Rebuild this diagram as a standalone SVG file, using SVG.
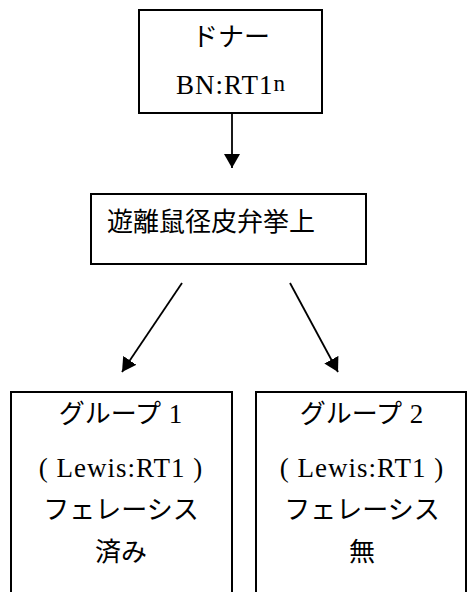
<svg xmlns="http://www.w3.org/2000/svg" width="468" height="592" viewBox="0 0 468 592">
  <style>
    .box { fill: #fff; stroke: #000; stroke-width: 2; }
    .jp { font-family: "Noto Sans CJK JP", "Noto Sans", sans-serif; font-size: 26px; fill: #000; }
    .lat { font-family: "Liberation Serif", "DejaVu Serif", serif; font-size: 27px; fill: #000; letter-spacing: 1px; }
    .conn { stroke: #000; stroke-width: 1.8; fill: none; }
  </style>
  <defs>
    <marker id="arrow" viewBox="0 0 14 16" refX="14" refY="8" markerWidth="14" markerHeight="16" markerUnits="userSpaceOnUse" orient="auto">
      <path d="M0,0 L14,8 L0,16 Z" fill="#000"/>
    </marker>
  </defs>
  <rect width="468" height="592" fill="#fff"/>

  <g id="donor">
    <rect class="box" x="139" y="10" width="183" height="103"/>
    <text class="jp" x="231" y="46" text-anchor="middle">ドナー</text>
    <text class="lat" x="231" y="94" text-anchor="middle">BN:RT1<tspan font-size="23" dy="-3">n</tspan></text>
  </g>

  <g id="flap">
    <rect class="box" x="91" y="194" width="275" height="70"/>
    <text class="jp" x="107" y="231">遊離鼠径皮弁挙上</text>
  </g>

  <g id="group1">
    <rect class="box" x="11" y="392" width="221" height="220"/>
    <text class="jp" x="121" y="423" text-anchor="middle">グループ<tspan class="lat" letter-spacing="0"> 1</tspan></text>
    <text class="lat" x="121" y="477" text-anchor="middle" xml:space="preserve">( Lewis:RT1 )</text>
    <text class="jp" x="121" y="519" text-anchor="middle">フェレーシス</text>
    <text class="jp" x="121" y="561" text-anchor="middle">済み</text>
  </g>

  <g id="group2">
    <rect class="box" x="256" y="392" width="210" height="220"/>
    <text class="jp" x="362" y="423" text-anchor="middle">グループ<tspan class="lat" letter-spacing="0"> 2</tspan></text>
    <text class="lat" x="362" y="477" text-anchor="middle" xml:space="preserve">( Lewis:RT1 )</text>
    <text class="jp" x="362" y="519" text-anchor="middle">フェレーシス</text>
    <text class="jp" x="362" y="561" text-anchor="middle">無</text>
  </g>

  <g id="connectors">
    <line class="conn" x1="232" y1="113" x2="232" y2="168" marker-end="url(#arrow)"/>
    <line class="conn" x1="182" y1="283" x2="122" y2="372" marker-end="url(#arrow)"/>
    <line class="conn" x1="290" y1="283" x2="338" y2="372" marker-end="url(#arrow)"/>
  </g>
</svg>
